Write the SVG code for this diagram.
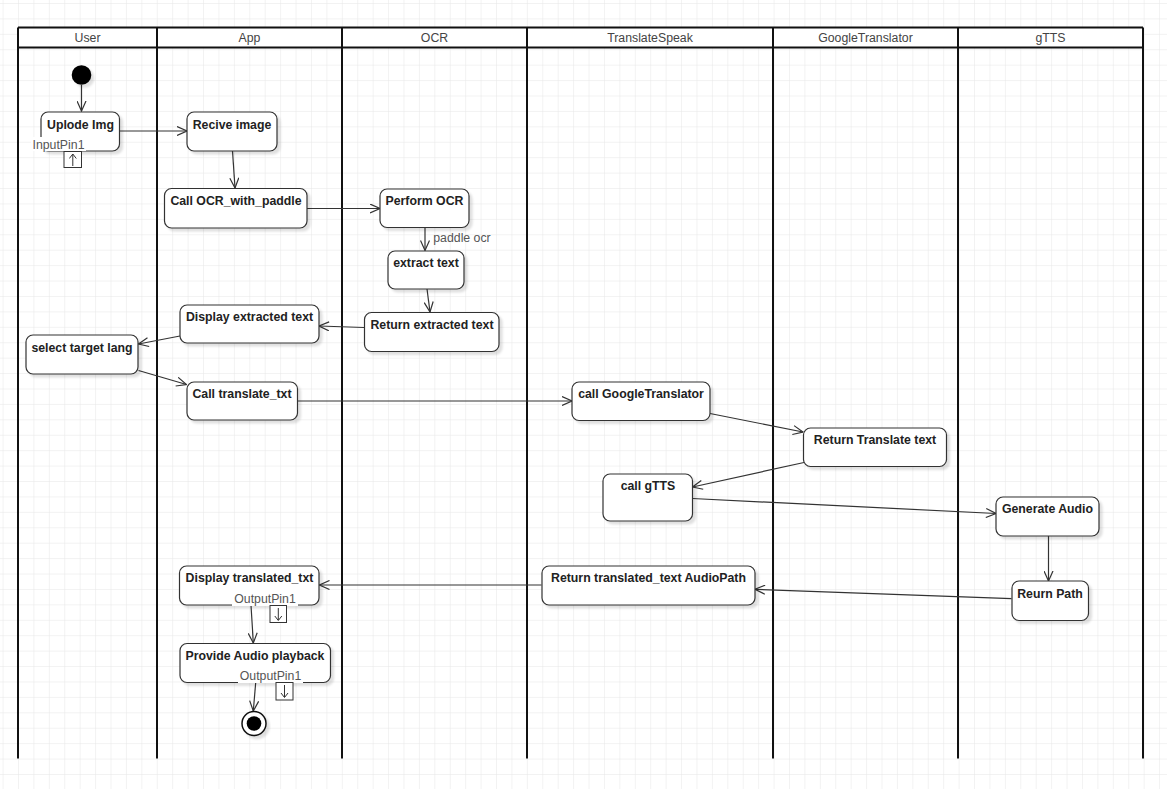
<svg xmlns="http://www.w3.org/2000/svg" width="1167" height="789" viewBox="0 0 1167 789">
<defs>
<pattern id="grid" x="2.58" y="3" width="15.42" height="15.42" patternUnits="userSpaceOnUse">
<path d="M0,0 H15.42 M0,0 V15.42" fill="none" stroke="#e6e6e6" stroke-width="1"/>
</pattern>
<filter id="sh" x="-10%" y="-10%" width="130%" height="140%">
<feDropShadow dx="3" dy="3" stdDeviation="1.2" flood-color="#000" flood-opacity="0.12"/>
</filter>
<marker id="arr" viewBox="0 0 11 10" refX="10.5" refY="5" markerWidth="11" markerHeight="10" markerUnits="userSpaceOnUse" orient="auto">
<path d="M0.5,0.5 L10.5,5 L0.5,9.5" fill="none" stroke="#333" stroke-width="1.2"/>
</marker>
<marker id="pinup" viewBox="0 0 8 6" refX="4" refY="0.5" markerWidth="8" markerHeight="6" markerUnits="userSpaceOnUse" orient="0">
<path d="M0.5,5 L4,0.5 L7.5,5" fill="none" stroke="#333" stroke-width="1"/>
</marker>
<style>
.lane{stroke:#111;stroke-width:2;fill:none}
.hd{font-family:"Liberation Sans",Arial,sans-serif;font-size:12.3px;fill:#444;text-anchor:middle}
.nd rect.b{fill:#fff;stroke:#333;stroke-width:1.2;filter:url(#sh)}
.nt{font-family:"Liberation Sans",Arial,sans-serif;font-size:12.3px;font-weight:bold;fill:#222;text-anchor:middle}
.pl{font-family:"Liberation Sans",Arial,sans-serif;font-size:12.3px;fill:#555;text-anchor:middle}
.pin{fill:#fff;stroke:#333;stroke-width:1}
.pa{stroke:#333;stroke-width:1;fill:none}
.c{stroke:#333;stroke-width:1.2;fill:none;marker-end:url(#arr)}
</style>
</defs>
<rect width="1167" height="789" fill="#fff"/>
<rect width="1167" height="789" fill="url(#grid)"/>

<g id="lanes">
<rect x="18" y="27.5" width="1125" height="20" fill="#fff"/>
<path class="lane" d="M18,27.5 H1143 M18,47.5 H1143 M18,27.5 V758.5 M157,27.5 V758.5 M342,27.5 V758.5 M527,27.5 V758.5 M773,27.5 V758.5 M958,27.5 V758.5 M1143,27.5 V758.5"/>
<text class="hd" x="87.5" y="42">User</text>
<text class="hd" x="249.5" y="42">App</text>
<text class="hd" x="434.5" y="42">OCR</text>
<text class="hd" x="650" y="42">TranslateSpeak</text>
<text class="hd" x="865.5" y="42">GoogleTranslator</text>
<text class="hd" x="1050.5" y="42">gTTS</text>
</g>

<g id="connectors">
<path class="c" d="M81.5,85 L81.5,111"/>
<path class="c" d="M120,131 L187,131"/>
<path class="c" d="M232.5,151 L235,188"/>
<path class="c" d="M307,208.5 L380,208.5"/>
<path class="c" d="M425,228 L425,250.5"/>
<text class="pl" x="462" y="241.5">paddle ocr</text>
<path class="c" d="M427,289 L430,312"/>
<path class="c" d="M364,327.5 L319,326"/>
<path class="c" d="M180,336 L138.5,344"/>
<path class="c" d="M138.5,370.5 L186.5,384.5"/>
<path class="c" d="M298,401 L572,401"/>
<path class="c" d="M710,413.5 L803,432"/>
<path class="c" d="M804,462.5 L692.5,487"/>
<path class="c" d="M692.5,498.5 L996,513.5"/>
<path class="c" d="M1048.5,536 L1048.5,581"/>
<path class="c" d="M1011.5,598.7 L755,589.3"/>
<path class="c" d="M541.5,585 L319.5,585"/>
<path class="c" d="M251,605 L253.3,643"/>
<path class="c" d="M255.7,682.5 L253.3,711"/>
</g>

<g id="start">
<circle cx="81.5" cy="75" r="9.8" fill="#000" filter="url(#sh)"/>
</g>

<g id="uplode-img" class="nd">
<rect class="b" x="41" y="112" width="78.5" height="39" rx="7"/>
<text class="nt" x="80.5" y="128.5">Uplode Img</text>
<rect x="31" y="137" width="55" height="14" fill="#fff"/>
<text class="pl" x="58.5" y="148.5">InputPin1</text>
<rect class="pin" x="64" y="151.5" width="17.5" height="16"/>
<path class="pa" d="M72.8,166 V154" marker-end="url(#pinup)"/>
</g>

<g id="recive-image" class="nd">
<rect class="b" x="187" y="112" width="90" height="39" rx="7"/>
<text class="nt" x="232" y="128.5">Recive image</text>
</g>

<g id="call-ocr" class="nd">
<rect class="b" x="164.5" y="188.5" width="142.5" height="39.5" rx="7"/>
<text class="nt" x="236" y="205">Call OCR_with_paddle</text>
</g>

<g id="perform-ocr" class="nd">
<rect class="b" x="380" y="189" width="89" height="38.5" rx="7"/>
<text class="nt" x="424.5" y="205">Perform OCR</text>
</g>

<g id="extract-text" class="nd">
<rect class="b" x="388" y="251" width="76" height="38" rx="7"/>
<text class="nt" x="426" y="267">extract text</text>
</g>

<g id="return-extracted" class="nd">
<rect class="b" x="364.5" y="312.5" width="134.5" height="39" rx="7"/>
<text class="nt" x="432" y="329">Return extracted text</text>
</g>

<g id="display-extracted" class="nd">
<rect class="b" x="180" y="305" width="139" height="38" rx="7"/>
<text class="nt" x="249.5" y="321">Display extracted text</text>
</g>

<g id="select-lang" class="nd">
<rect class="b" x="26" y="335" width="112" height="39" rx="7"/>
<text class="nt" x="82" y="351.5">select target lang</text>
</g>

<g id="call-translate" class="nd">
<rect class="b" x="187" y="382" width="110.5" height="38" rx="7"/>
<text class="nt" x="242" y="398">Call translate_txt</text>
</g>

<g id="call-google" class="nd">
<rect class="b" x="572" y="382" width="138" height="38.5" rx="7"/>
<text class="nt" x="641" y="398">call GoogleTranslator</text>
</g>

<g id="return-translate" class="nd">
<rect class="b" x="803.5" y="428" width="143" height="38.5" rx="7"/>
<text class="nt" x="875" y="444">Return Translate text</text>
</g>

<g id="call-gtts" class="nd">
<rect class="b" x="603" y="474" width="89.5" height="47" rx="7"/>
<text class="nt" x="648" y="490">call gTTS</text>
</g>

<g id="generate-audio" class="nd">
<rect class="b" x="996" y="497" width="103" height="39" rx="7"/>
<text class="nt" x="1047.5" y="513">Generate Audio</text>
</g>

<g id="reurn-path" class="nd">
<rect class="b" x="1012" y="581" width="76.5" height="39.5" rx="7"/>
<text class="nt" x="1050" y="597.5">Reurn Path</text>
</g>

<g id="return-audiopath" class="nd">
<rect class="b" x="542" y="566" width="213" height="39" rx="7"/>
<text class="nt" x="648.5" y="582">Return translated_text AudioPath</text>
</g>

<g id="display-translated" class="nd">
<rect class="b" x="179.5" y="566" width="139.5" height="39" rx="7"/>
<text class="nt" x="249.5" y="582">Display translated_txt</text>
<rect x="232" y="592" width="66" height="14" fill="#fff"/>
<text class="pl" x="265" y="603">OutputPin1</text>
<rect class="pin" x="270" y="605.5" width="16.5" height="17"/>
<path class="pa" d="M278.3,608 V620" marker-end="url(#pinup)" style="marker-end:none"/>
<path class="pa" d="M274.8,616 L278.3,620.5 L281.8,616"/>
</g>

<g id="provide-audio" class="nd">
<rect class="b" x="180" y="643.5" width="150.5" height="39" rx="7"/>
<text class="nt" x="255" y="660">Provide Audio playback</text>
<rect x="238" y="669" width="65" height="14" fill="#fff"/>
<text class="pl" x="270.5" y="680">OutputPin1</text>
<rect class="pin" x="276" y="682.5" width="17" height="17.5"/>
<path class="pa" d="M284.5,685 V697"/>
<path class="pa" d="M281,693 L284.5,697.5 L288,693"/>
</g>

<g id="end">
<circle cx="254" cy="723.5" r="12" fill="#fff" stroke="#111" stroke-width="1.5" filter="url(#sh)"/>
<circle cx="254" cy="723.5" r="7.3" fill="#000"/>
</g>
</svg>
